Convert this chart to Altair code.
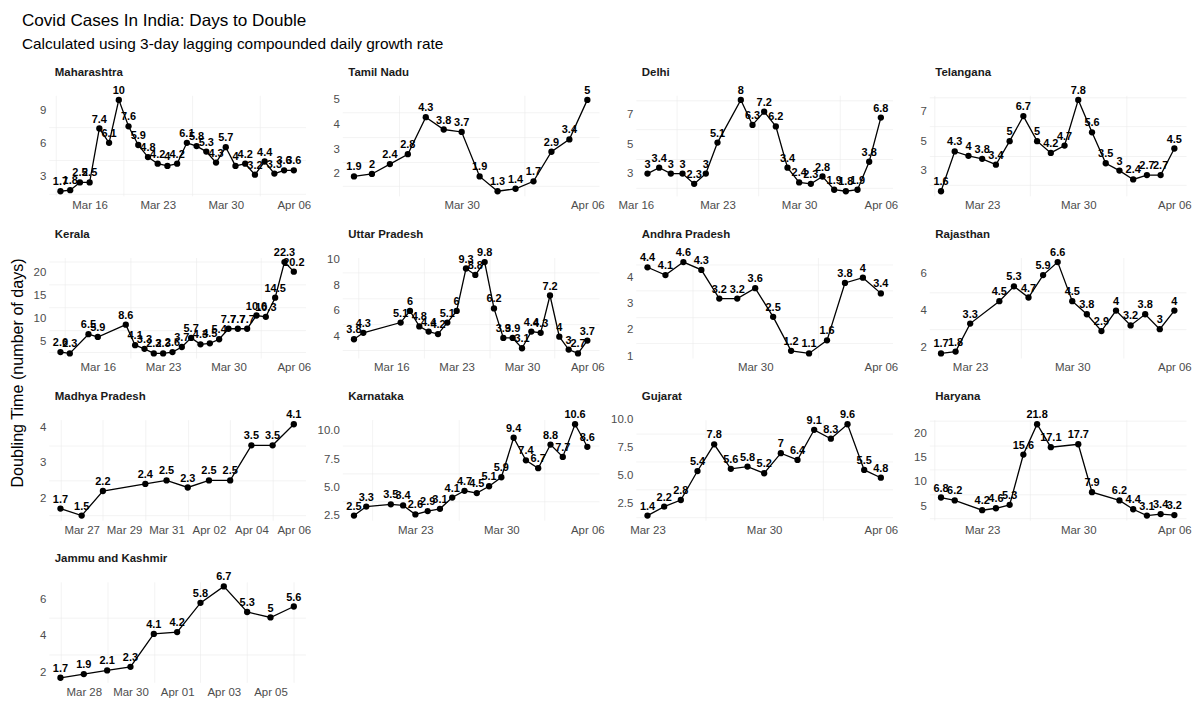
import altair as alt
import pandas as pd

FONT = "Liberation Sans"
TITLE = "Covid Cases In India: Days to Double"
SUBTITLE = "Calculated using 3-day lagging compounded daily growth rate"
YTITLE = "Doubling Time (number of days)"

# ---------------- data ----------------
mh_dates = ["03-13", "03-14", "03-15", "03-16", "03-17", "03-18", "03-19", "03-20", "03-21", "03-22",
            "03-23", "03-24", "03-25", "03-26", "03-27", "03-28", "03-29", "03-30", "03-31", "04-01",
            "04-02", "04-03", "04-04", "04-05", "04-06"]
mh_vals = [1.7, 1.8, 2.5, 2.5, 7.4, 6.1, 10, 7.6, 5.9, 4.8, 4.2, 4, 4.2, 6.1, 5.8, 5.3, 4.3, 5.7, 4,
           4.2, 3.2, 4.4, 3.3, 3.6, 3.6]

tn_dates = ["03-24", "03-25", "03-26", "03-27", "03-28", "03-29", "03-30", "03-31", "04-01", "04-02",
            "04-03", "04-04", "04-05", "04-06"]
tn_vals = [1.9, 2, 2.4, 2.8, 4.3, 3.8, 3.7, 1.9, 1.3, 1.4, 1.7, 2.9, 3.4, 5]

dl_dates = ["03-17", "03-18", "03-19", "03-20", "03-21", "03-22", "03-23", "03-25", "03-26", "03-27",
            "03-28", "03-29", "03-30", "03-31", "04-01", "04-02", "04-03", "04-04", "04-05", "04-06"]
dl_vals = [3, 3.4, 3, 3, 2.3, 3, 5.1, 8, 6.3, 7.2, 6.2, 3.4, 2.4, 2.3, 2.8, 1.9, 1.8, 1.9, 3.8, 6.8]

tg_dates = ["03-20", "03-21", "03-22", "03-23", "03-24", "03-25", "03-26", "03-27", "03-28", "03-29",
            "03-30", "03-31", "04-01", "04-02", "04-03", "04-04", "04-05", "04-06"]
tg_vals = [1.6, 4.3, 4, 3.8, 3.4, 5, 6.7, 5, 4.2, 4.7, 7.8, 5.6, 3.5, 3, 2.4, 2.7, 2.7, 4.5]

kl_dates = ["03-12", "03-13", "03-15", "03-16", "03-19", "03-20", "03-21", "03-22", "03-23",
            "03-24", "03-25", "03-26", "03-27", "03-28", "03-29", "03-30", "03-31", "04-01", "04-02",
            "04-03", "04-04", "04-05", "04-06"]
kl_vals = [2.6, 2.3, 6.5, 5.9, 8.6, 4.1, 3.3, 2.3, 2.3, 2.6, 3.7, 5.7, 4.3, 4.5, 5.4, 7.7, 7.7,
           7.7, 10.6, 10.3, 14.5, 22.3, 20.2]

up_dates = ["03-12", "03-13", "03-17", "03-18", "03-19", "03-20", "03-21", "03-22", "03-23", "03-24",
            "03-25", "03-26", "03-27", "03-28", "03-29", "03-30", "03-31", "04-01", "04-02", "04-03",
            "04-04", "04-05", "04-06"]
up_vals = [3.8, 4.3, 5.1, 6, 4.8, 4.4, 4.2, 5.1, 6, 9.3, 8.8, 9.8, 6.2, 3.9, 3.9, 3.1, 4.4, 4.3, 7.2,
           4, 3, 2.7, 3.7]

ap_dates = ["03-24", "03-25", "03-26", "03-27", "03-28", "03-29", "03-30", "03-31", "04-01", "04-02",
            "04-03", "04-04", "04-05", "04-06"]
ap_vals = [4.4, 4.1, 4.6, 4.3, 3.2, 3.2, 3.6, 2.5, 1.2, 1.1, 1.6, 3.8, 4, 3.4]

rj_dates = ["03-21", "03-22", "03-23", "03-25", "03-26", "03-27", "03-28", "03-29", "03-30", "03-31",
            "04-01", "04-02", "04-03", "04-04", "04-05", "04-06"]
rj_vals = [1.7, 1.8, 3.3, 4.5, 5.3, 4.7, 5.9, 6.6, 4.5, 3.8, 2.9, 4, 3.2, 3.8, 3, 4]

mp_dates = ["03-26", "03-27", "03-28", "03-30", "03-31", "04-01", "04-02", "04-03", "04-04", "04-05",
            "04-06"]
mp_vals = [1.7, 1.5, 2.2, 2.4, 2.5, 2.3, 2.5, 2.5, 3.5, 3.5, 4.1]

ka_dates = ["03-18", "03-19", "03-21", "03-22", "03-23", "03-24", "03-25", "03-26", "03-27", "03-28",
            "03-29", "03-30", "03-31", "04-01", "04-02", "04-03", "04-04", "04-05", "04-06"]
ka_vals = [2.5, 3.3, 3.5, 3.4, 2.6, 2.9, 3.1, 4.1, 4.7, 4.5, 5.1, 5.9, 9.4, 7.4, 6.7, 8.8, 7.7, 10.6, 8.6]

gj_dates = ["03-23", "03-24", "03-25", "03-26", "03-27", "03-28", "03-29", "03-30", "03-31", "04-01",
            "04-02", "04-03", "04-04", "04-05", "04-06"]
gj_vals = [1.4, 2.2, 2.8, 5.4, 7.8, 5.6, 5.8, 5.2, 7, 6.4, 9.1, 8.3, 9.6, 5.5, 4.8]

hr_dates = ["03-20", "03-21", "03-23", "03-24", "03-25", "03-26", "03-27", "03-28", "03-30", "03-31",
            "04-02", "04-03", "04-04", "04-05", "04-06"]
hr_vals = [6.8, 6.2, 4.2, 4.6, 5.3, 15.6, 21.8, 17.1, 17.7, 7.9, 6.2, 4.4, 3.1, 3.4, 3.2]

jk_dates = ["03-27", "03-28", "03-29", "03-30", "03-31", "04-01", "04-02", "04-03", "04-04", "04-05",
            "04-06"]
jk_vals = [1.7, 1.9, 2.1, 2.3, 4.1, 4.2, 5.8, 6.7, 5.3, 5, 5.6]

# axis breaks (tick labels) per panel
wk4 = ["03-16", "03-23", "03-30", "04-06"]
wk3 = ["03-23", "03-30", "04-06"]
wk2 = ["03-30", "04-06"]
mp_x = ["03-27", "03-29", "03-31", "04-02", "04-04", "04-06"]
jk_x = ["03-28", "03-30", "04-01", "04-03", "04-05"]

panels_spec = [
    ("Maharashtra", mh_dates, mh_vals, wk4, [3, 6, 9], "d"),
    ("Tamil Nadu", tn_dates, tn_vals, wk2, [2, 3, 4, 5], "d"),
    ("Delhi", dl_dates, dl_vals, wk4, [3, 5, 7, 9], "d"),
    ("Telangana", tg_dates, tg_vals, wk3, [3, 5, 7], "d"),
    ("Kerala", kl_dates, kl_vals, wk4, [5, 10, 15, 20, 25], "d"),
    ("Uttar Pradesh", up_dates, up_vals, wk4, [4, 6, 8, 10], "d"),
    ("Andhra Pradesh", ap_dates, ap_vals, wk2, [1, 2, 3, 4, 5], "d"),
    ("Rajasthan", rj_dates, rj_vals, wk3, [2, 4, 6], "d"),
    ("Madhya Pradesh", mp_dates, mp_vals, mp_x, [2, 3, 4], "d"),
    ("Karnataka", ka_dates, ka_vals, wk3, [2.5, 5.0, 7.5, 10.0], ".1f"),
    ("Gujarat", gj_dates, gj_vals, wk3, [2.5, 5.0, 7.5, 10.0], ".1f"),
    ("Haryana", hr_dates, hr_vals, wk3, [5, 10, 15, 20, 25], "d"),
    ("Jammu and Kashmir", jk_dates, jk_vals, jk_x, [2, 4, 6], "d"),
]

PW, PH = 258, 101
GRID = "#EBEBEB"


def ms(d):
    return int(pd.Timestamp("2020-" + d).value // 10**6)


def minor_of(vals, lo, hi):
    if len(vals) > 1:
        step = vals[1] - vals[0]
    else:
        step = 7 * 86400000
    cand = [vals[0] - step / 2] + [v + step / 2 for v in vals]
    return [c for c in cand if lo <= c <= hi]


def panel(name, dates, vals, xbreaks, ybreaks, yfmt):
    df = pd.DataFrame({"date": ["2020-" + d for d in dates], "v": vals,
                       "lab": ["%g" % v for v in vals]})
    t = [ms(d) for d in dates]
    span = max(t) - min(t)
    xdom = [min(t) - 0.05 * span, max(t) + 0.05 * span]
    vr = max(vals) - min(vals)
    ydom = [min(vals) - 0.05 * vr, max(vals) + 0.05 * vr]
    xv = [ms(d) for d in xbreaks]
    xv = [x for x in xv if xdom[0] <= x <= xdom[1]]
    yv = [y for y in ybreaks if ydom[0] <= y <= ydom[1]]
    xmin = minor_of([ms(d) for d in xbreaks], *xdom)
    ymin = minor_of(ybreaks, *ydom)

    xs = alt.Scale(type="utc", domain=xdom)
    ys = alt.Scale(domain=ydom, zero=False, nice=False)
    base = alt.Chart(df)
    X = alt.X("date:T", scale=xs, axis=alt.Axis(values=xv, format="%b %d", title=None,
                                                 labelFlush=False, labelOverlap=False,
                                                 labelPadding=4))
    Y = alt.Y("v:Q", scale=ys, axis=alt.Axis(values=yv, format=yfmt, title=None, labelFlush=False,
                                              labelOverlap=False, labelPadding=3))
    line = base.mark_line(color="black", strokeWidth=1.3).encode(x=X, y=Y)
    pts = base.mark_circle(color="black", size=40, opacity=1).encode(x=X, y=Y)
    txt = base.mark_text(dy=-9, fontWeight="bold", fontSize=11, font=FONT, color="black").encode(
        x=X, y=Y, text="lab:N")
    minor = base.mark_point(opacity=0).encode(
        x=alt.X("date:T", scale=xs, axis=alt.Axis(values=xmin, orient="top", labels=False, ticks=False,
                                                  domain=False, grid=True, gridWidth=0.6,
                                                  gridColor=GRID, title=None)),
        y=alt.Y("v:Q", scale=ys, axis=alt.Axis(values=ymin, orient="right", labels=False, ticks=False,
                                               domain=False, grid=True, gridWidth=0.6,
                                               gridColor=GRID, title=None)))
    main = alt.layer(line, pts, txt)
    return alt.layer(minor, main).resolve_axis(x="independent", y="independent").properties(
        width=PW, height=PH,
        title=alt.TitleParams(name, anchor="start", frame="group", fontSize=11.5, fontWeight="bold",
                              font=FONT, color="#1A1A1A", offset=7, dx=6))


panels = [panel(*p) for p in panels_spec]
grid = alt.concat(*panels, columns=4, spacing={"row": 62, "column": 37}, bounds="flush")

ytc = alt.Chart(pd.DataFrame({"t": [YTITLE]})).mark_text(
    angle=270, font=FONT, fontSize=16.2, color="black").encode(
    text="t:N", x=alt.value(10), y=alt.value(279)).properties(width=36, height=560)

chart = alt.hconcat(ytc, grid, spacing=5, bounds="flush").properties(
    padding={"left": 0, "top": 2, "right": 0, "bottom": 0},
    title=alt.TitleParams(TITLE, subtitle=SUBTITLE, anchor="start", frame="group", fontSize=17.2,
                          subtitleFontSize=15.5, font=FONT, subtitleFont=FONT, fontWeight="normal",
                          color="black", subtitleColor="black", dx=14, offset=14,
                          subtitlePadding=7.6)
).configure_view(stroke=None).configure_axis(
    domain=False, ticks=False, labelColor="#4D4D4D", labelFont=FONT, labelFontSize=11.5,
    gridColor=GRID, gridWidth=1.1, grid=True
)

chart.save("out.html", embed_options={"renderer": "svg", "actions": False})
